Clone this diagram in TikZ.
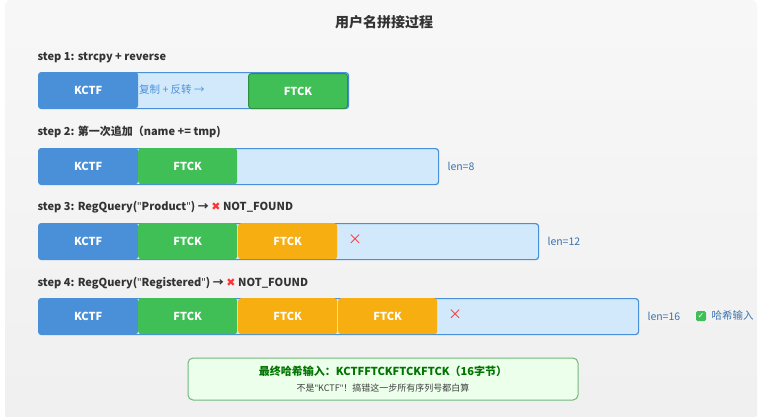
\documentclass[tikz,border=0pt]{standalone}
\usepackage{fontspec}
\setmainfont{Noto Sans CJK SC}
\newfontfamily\djvf{DejaVu Sans}
\newfontfamily\lat{Noto Sans}
\newcommand{\qq}{{\lat"}}
\begin{document}
\begin{tikzpicture}[x=1pt,y=-1pt,
  blk/.style={rounded corners=3pt,text=white,font=\bfseries\fontsize{11}{13}\selectfont,inner sep=0pt},
  kb/.style={blk,fill=kblue},
  gb/.style={blk,fill=kgreen},
  ob/.style={blk,fill=korange},
  lab/.style={anchor=west,font=\bfseries\fontsize{11}{13}\selectfont,text=black!80},
  side/.style={anchor=west,font=\fontsize{10.5}{12}\selectfont,text=kblue!80!black},
  crs/.style={text=red!80,font=\fontsize{14}{15}\selectfont}]
\definecolor{kblue}{HTML}{4A90D9}
\definecolor{kgreen}{HTML}{3FBF55}
\definecolor{korange}{HTML}{F7AE10}
\definecolor{barfill}{HTML}{D2E9FC}
\tikzset{bar/.style={draw=kblue,line width=1.2pt,fill=barfill,rounded corners=3pt}}
\useasboundingbox (0,0) rectangle (769,416);
\fill[white] (0,0) rectangle (769,416);
\shade[top color=gray!6,bottom color=gray!12,rounded corners=6pt] (5,0) rectangle (757,420);
\node[font=\bfseries\fontsize{14}{16}\selectfont,text=black!80] (title) at (384,22) {用户名拼接过程};
% step 1
\node[lab] (l1) at (34,58) {step 1: strcpy + reverse};
\node[bar,minimum width=310pt,minimum height=36pt,anchor=north west] (b1) at (38,72) {};
\node[kb,minimum width=100pt,minimum height=36pt,anchor=north west] (k1) at (38,72) {KCTF};
\node[anchor=west,text=kblue,font=\fontsize{10.5}{12}\selectfont,inner sep=0pt] (t1) at (139,90) {复制 + 反转 →};
\node[gb,draw=kgreen!75!black,line width=1pt,minimum width=99pt,minimum height=35pt,anchor=north west] (f1) at (248,73) {FTCK};
% step 2
\node[lab] (l2) at (34,132) {step 2: 第一次追加（name += tmp)};
\node[bar,minimum width=400pt,minimum height=36pt,anchor=north west] (b2) at (38,148) {};
\node[kb,minimum width=100pt,minimum height=36pt,anchor=north west] (k2) at (38,148) {KCTF};
\node[gb,minimum width=99pt,minimum height=36pt,anchor=north west] (f2) at (138,148) {FTCK};
\node[side] (n2) at (444,166) {len=8};
% step 3
\node[lab] (l3) at (34,207) {step 3: RegQuery(\qq Product\qq) → \textcolor{red!80}{\djvf ✖} NOT\_FOUND};
\node[bar,minimum width=500pt,minimum height=36pt,anchor=north west] (b3) at (38,223) {};
\node[kb,minimum width=100pt,minimum height=36pt,anchor=north west] (k3) at (38,223) {KCTF};
\node[gb,minimum width=99pt,minimum height=36pt,anchor=north west] (f3) at (138,223) {FTCK};
\node[ob,minimum width=99pt,minimum height=36pt,anchor=north west] (o3) at (238,223) {FTCK};
\node[crs] (x3) at (355,240) {×};
\node[side] (n3) at (544,241) {len=12};
% step 4
\node[lab] (l4) at (34,283) {step 4: RegQuery(\qq Registered\qq) → \textcolor{red!80}{\djvf ✖} NOT\_FOUND};
\node[bar,minimum width=600pt,minimum height=36pt,anchor=north west] (b4) at (38,298) {};
\node[kb,minimum width=100pt,minimum height=36pt,anchor=north west] (k4) at (38,298) {KCTF};
\node[gb,minimum width=99pt,minimum height=36pt,anchor=north west] (f4) at (138,298) {FTCK};
\node[ob,minimum width=99pt,minimum height=36pt,anchor=north west] (o4) at (238,298) {FTCK};
\node[ob,minimum width=99pt,minimum height=36pt,anchor=north west] (o4b) at (338,298) {FTCK};
\node[crs] (x4) at (455,315) {×};
\node[side] (n4) at (644,316) {len=16};
\node[fill=kgreen,rounded corners=1.5pt,minimum size=10pt,inner sep=0pt,text=white,font=\djvf\bfseries\fontsize{8}{8}\selectfont] (ck) at (701,316) {✓};
\node[side] (h4) at (708,316) {哈希输入};
% bottom
\node[draw=kgreen!80!black!70,line width=1pt,fill=green!8,rounded corners=5pt,minimum width=390pt,minimum height=42pt] (res) at (383,379) {};
\node[font=\bfseries\fontsize{11}{13}\selectfont,text=green!45!black] (r1) at (383,371) {最终哈希输入：KCTFFTCKFTCKFTCK（16字节）};
\node[font=\fontsize{9}{10}\selectfont,text=black!75] (r2) at (383,388) {不是\qq KCTF\qq！搞错这一步所有序列号都白算};
\end{tikzpicture}
\end{document}
